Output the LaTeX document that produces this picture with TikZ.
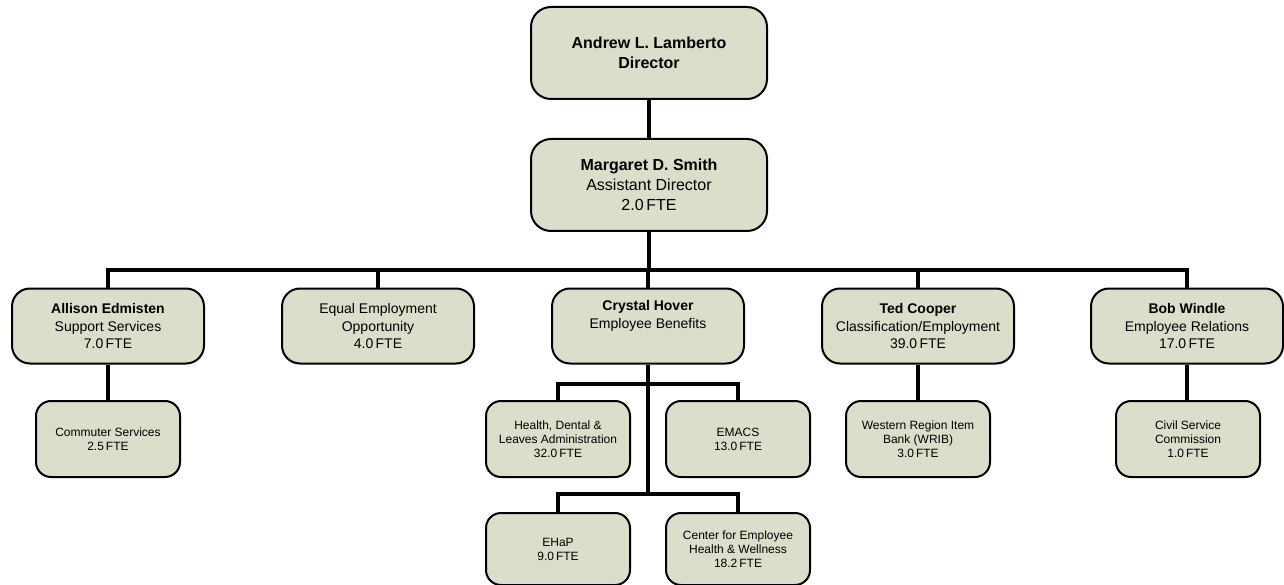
\documentclass[tikz,border=0pt]{standalone}
\usepackage{fontspec}
\setmainfont{Liberation Sans}
\usepackage{xcolor}
\usepackage{tikz}

\definecolor{boxfill}{RGB}{220,221,203}

\begin{document}
\begin{tikzpicture}[x=1pt, y=-1pt,
    top/.style={rectangle, rounded corners=20pt, draw, line width=2pt, fill=boxfill, minimum width=236pt, minimum height=92pt, align=center, font=\fontsize{16}{20}\selectfont},
    unit/.style={rectangle, rounded corners=18pt, draw, line width=2pt, fill=boxfill, minimum width=192pt, minimum height=75pt, align=center, font=\fontsize{14}{17.5}\selectfont},
    sub/.style={rectangle, rounded corners=15pt, draw, line width=2pt, fill=boxfill, minimum width=144pt, minimum height=76pt, align=center, font=\fontsize{12}{14}\selectfont},
    link/.style={line width=4pt}]
    \useasboundingbox (0,0) rectangle (1284,585);
    % meeting points of the lines
    \coordinate (bus) at (649,270);
    \coordinate (hdbus) at (648,384);
    \coordinate (lowbus) at (648,494);

    \node[top] (dir) at (649,53) {\textbf{Andrew L. Lamberto}\\\textbf{Director}};
    \node[top] (asst) at (649,185) {\textbf{Margaret D. Smith}\\Assistant Director\\2.0\,FTE};

    \node[unit] (allison) at (108,326) {\textbf{Allison Edmisten}\\Support Services\\7.0\,FTE};
    \node[unit] (eeo) at (378,326) {Equal Employment\\Opportunity\\4.0\,FTE};
    \node[unit] (crystal) at (648,326) {\textbf{Crystal Hover}\\Employee Benefits\\\strut};
    \node[unit] (ted) at (918,326) {\textbf{Ted Cooper}\\Classification/Employment\\39.0\,FTE};
    \node[unit] (bob) at (1187,326) {\textbf{Bob Windle}\\Employee Relations\\17.0\,FTE};

    \node[sub] (commuter) at (108,439) {Commuter Services\\2.5\,FTE};
    \node[sub] (wrib) at (918,439) {Western Region Item\\Bank (WRIB)\\3.0\,FTE};
    \node[sub] (csc) at (1188,439) {Civil Service\\Commission\\1.0\,FTE};

    \node[sub] (health) at (558,439) {Health, Dental \&\\Leaves Administration\\32.0\,FTE};
    \node[sub] (emacs) at (738,439) {EMACS\\13.0\,FTE};
    \node[sub, minimum height=72pt] (ehap) at (558,549) {EHaP\\9.0\,FTE};
    \node[sub, minimum height=72pt] (cehw) at (738,549) {Center for Employee\\Health \& Wellness\\18.2\,FTE};

    \draw[link] (dir) -- (asst);
    \draw[link] (asst) -- (bus);
    \draw[link] (allison.north) |- (bus) -| (bob.north);
    \draw[link] (eeo.north) -- (eeo.north |- bus);
    \draw[link] (crystal.north) -- (crystal.north |- bus);
    \draw[link] (ted.north) -- (ted.north |- bus);
    \draw[link] (allison) -- (commuter);
    \draw[link] (ted) -- (wrib);
    \draw[link] (bob.south) -- (bob.south |- csc.north);
    \draw[link] (crystal) -- (lowbus);
    \draw[link] (health.north) |- (hdbus) -| (emacs.north);
    \draw[link] (ehap.north) |- (lowbus) -| (cehw.north);
\end{tikzpicture}
\end{document}
